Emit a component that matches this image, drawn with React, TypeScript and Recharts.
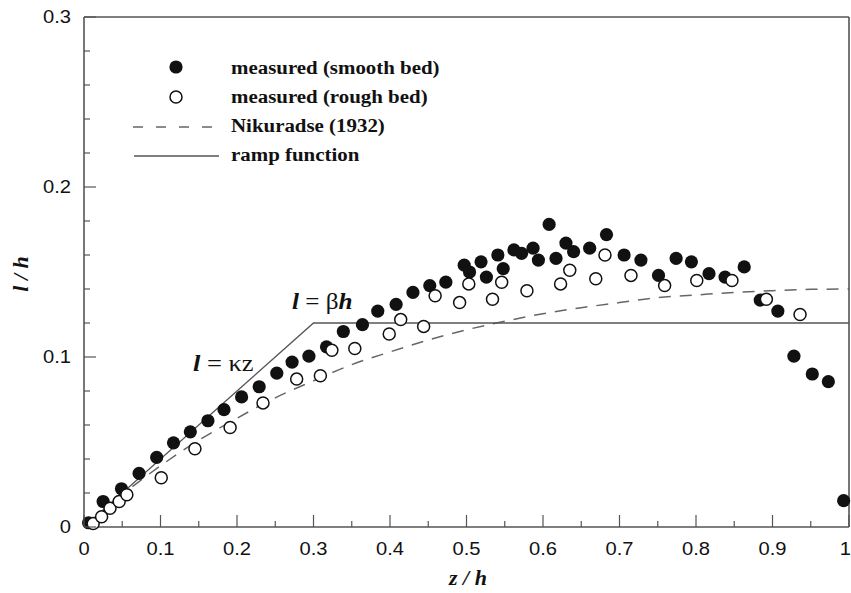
import { ComposedChart, Scatter, Line, XAxis, YAxis, Legend } from "recharts";

// measured, smooth bed (filled circles)
const smoothZ = [
  0.006, 0.025, 0.049, 0.072, 0.095, 0.117, 0.139, 0.162, 0.183, 0.206, 0.229, 0.252, 0.272, 0.294,
  0.317, 0.339, 0.364, 0.384, 0.408, 0.43, 0.452, 0.473, 0.497, 0.504, 0.519, 0.526, 0.541, 0.548,
  0.562, 0.572, 0.587, 0.594, 0.608, 0.617, 0.63, 0.64, 0.661, 0.683, 0.706, 0.728, 0.751, 0.774,
  0.794, 0.817, 0.838, 0.863, 0.884, 0.907, 0.928, 0.952, 0.973, 0.993,
];
const smoothL = [
  0.0025, 0.015, 0.0225, 0.0315, 0.041, 0.0495, 0.056, 0.0625, 0.069, 0.0765, 0.0825, 0.0905, 0.097,
  0.1005, 0.106, 0.115, 0.119, 0.127, 0.131, 0.138, 0.142, 0.144, 0.154, 0.15, 0.156, 0.147, 0.16,
  0.152, 0.163, 0.161, 0.164, 0.157, 0.178, 0.158, 0.167, 0.162, 0.164, 0.172, 0.16, 0.157, 0.148,
  0.158, 0.156, 0.149, 0.147, 0.153, 0.1335, 0.127, 0.1005, 0.09, 0.0855, 0.0155,
];

// measured, rough bed (open circles)
const roughZ = [
  0.012, 0.023, 0.034, 0.046, 0.056, 0.101, 0.145, 0.191, 0.234, 0.278, 0.309, 0.324, 0.354, 0.399,
  0.414, 0.444, 0.459, 0.491, 0.503, 0.534, 0.546, 0.579, 0.623, 0.635, 0.669, 0.681, 0.715, 0.759,
  0.801, 0.847, 0.892, 0.936,
];
const roughL = [
  0.002, 0.006, 0.011, 0.015, 0.019, 0.029, 0.046, 0.0585, 0.073, 0.087, 0.089, 0.104, 0.105, 0.1135,
  0.122, 0.118, 0.136, 0.132, 0.143, 0.134, 0.144, 0.139, 0.143, 0.151, 0.146, 0.16, 0.148, 0.142,
  0.145, 0.145, 0.134, 0.125,
];

// Nikuradse (1932), dashed curve
const nikZ = [0, 0.05, 0.1, 0.15, 0.2, 0.25, 0.3, 0.35, 0.4, 0.45, 0.5, 0.55, 0.6, 0.65, 0.7, 0.75, 0.8, 0.85, 0.9, 0.95, 1];
const nikL = [
  0, 0.019, 0.036, 0.051, 0.064, 0.076, 0.086, 0.0955, 0.103, 0.11, 0.116, 0.121, 0.1255, 0.129,
  0.132, 0.135, 0.1365, 0.138, 0.139, 0.1398, 0.14,
];

// ramp function
const rampZ = [0, 0.3, 1];
const rampL = [0, 0.12, 0.12];

const xTicks = [0, 0.05, 0.1, 0.15, 0.2, 0.25, 0.3, 0.35, 0.4, 0.45, 0.5, 0.55, 0.6, 0.65, 0.7, 0.75, 0.8, 0.85, 0.9, 0.95, 1];
const yTicks = [0, 0.02, 0.04, 0.06, 0.08, 0.1, 0.12, 0.14, 0.16, 0.18, 0.2, 0.22, 0.24, 0.26, 0.28, 0.3];

const zip = (zs: number[], ls: number[]) => zs.map((z, i) => ({ z, l: ls[i] }));
const smooth = zip(smoothZ, smoothL);
const rough = zip(roughZ, roughL);
const nikuradse = zip(nikZ, nikL);
const ramp = zip(rampZ, rampL);

const AXIS = "#555";
const INK = "#111";
const SANS = "'Liberation Sans', Arial, sans-serif";
const SERIF = "'Liberation Serif', 'Times New Roman', serif";
const MAJOR = 12;
const MINOR = 6;
const R = 6.6;

const isMajor = (v: number) => Math.round(v * 100) % 10 === 0;
const fmt = (v: number) => (v === 0 ? "0" : v === 1 ? "1" : v.toFixed(1));

function StretchText({ x, y, anchor = "start", sx = 1.12, size = 18, family = SANS, weight = "normal", children }: any) {
  return (
    <text
      transform={`translate(${x} ${y}) scale(${sx} 1)`}
      textAnchor={anchor}
      fontFamily={family}
      fontSize={size}
      fontWeight={weight}
      fill={INK}
    >
      {children}
    </text>
  );
}

function BottomTick({ x, y, payload }: any) {
  const v = payload.value;
  const major = isMajor(v);
  // the last label sits against the right edge, as in the original
  const last = v === 1;
  return (
    <g>
      <line x1={x} x2={x} y1={y} y2={y - (major ? MAJOR : MINOR)} stroke={AXIS} strokeWidth={1.2} />
      {major && (
        <StretchText x={last ? x + 2 : x} y={y + 28} anchor={last ? "end" : "middle"}>
          {fmt(v)}
        </StretchText>
      )}
    </g>
  );
}

function TopTick({ x, y, payload }: any) {
  const len = isMajor(payload.value) ? MAJOR : MINOR;
  return <line x1={x} x2={x} y1={y} y2={y + len} stroke={AXIS} strokeWidth={1.2} />;
}

function LeftTick({ x, y, payload }: any) {
  const major = isMajor(payload.value);
  return (
    <g>
      <line x1={x} x2={x + (major ? MAJOR : MINOR)} y1={y} y2={y} stroke={AXIS} strokeWidth={1.2} />
      {major && (
        <StretchText x={x - 13} y={y + 6} anchor="end">
          {fmt(payload.value)}
        </StretchText>
      )}
    </g>
  );
}

function RightTick({ x, y, payload }: any) {
  const len = isMajor(payload.value) ? MAJOR : MINOR;
  return <line x1={x} x2={x - len} y1={y} y2={y} stroke={AXIS} strokeWidth={1.2} />;
}

const FilledDot = (p: any) => <circle cx={p.cx} cy={p.cy} r={R} fill={INK} />;
const OpenDot = (p: any) => <circle cx={p.cx} cy={p.cy} r={R - 0.6} fill="#fff" stroke={INK} strokeWidth={1.5} />;

function LegendBox() {
  const tx = 231;
  const label = (y: number, text: string) => (
    <StretchText x={tx} y={y} size={19} sx={1.1} family={SERIF} weight="bold">
      {text}
    </StretchText>
  );
  return (
    <svg width={460} height={180} style={{ display: "block" }}>
      <circle cx={176} cy={67} r={R} fill={INK} />
      {label(74, "measured (smooth bed)")}
      <circle cx={176} cy={97} r={R - 0.6} fill="#fff" stroke={INK} strokeWidth={1.5} />
      {label(103, "measured (rough bed)")}
      <line x1={133} x2={219} y1={127} y2={127} stroke="#666" strokeWidth={1.4} strokeDasharray="10 13" />
      {label(132, "Nikuradse (1932)")}
      <line x1={134} x2={219} y1={156} y2={156} stroke="#555" strokeWidth={1.3} />
      {label(161, "ramp function")}
    </svg>
  );
}

const axisLine = { stroke: AXIS, strokeWidth: 1.6 };

export default function App() {
  return (
    <div style={{ position: "absolute", left: 0, top: 0, background: "#fff" }}>
      <ComposedChart width={851} height={593} margin={{ top: 12, right: 1, bottom: 26, left: 44 }}>
        <XAxis
          dataKey="z"
          type="number"
          domain={[0, 1]}
          ticks={xTicks}
          interval={0}
          height={40}
          tickSize={0}
          tickMargin={0}
          tickLine={false}
          axisLine={axisLine}
          tick={BottomTick}
        />
        <XAxis
          xAxisId="top"
          orientation="top"
          type="number"
          domain={[0, 1]}
          ticks={xTicks}
          interval={0}
          height={5}
          tickSize={0}
          tickMargin={0}
          tickLine={false}
          axisLine={axisLine}
          tick={TopTick}
        />
        <YAxis
          type="number"
          domain={[0, 0.3]}
          ticks={yTicks}
          interval={0}
          width={40}
          tickSize={0}
          tickMargin={0}
          tickLine={false}
          axisLine={axisLine}
          tick={LeftTick}
        />
        <YAxis
          yAxisId="right"
          orientation="right"
          type="number"
          domain={[0, 0.3]}
          ticks={yTicks}
          interval={0}
          width={1}
          tickSize={0}
          tickMargin={0}
          tickLine={false}
          axisLine={axisLine}
          tick={RightTick}
        />
        <Line
          data={nikuradse}
          dataKey="l"
          type="monotone"
          stroke="#666"
          strokeWidth={1.5}
          strokeDasharray="12 9"
          dot={false}
          isAnimationActive={false}
        />
        <Line
          data={ramp}
          dataKey="l"
          type="linear"
          stroke="#555"
          strokeWidth={1.3}
          dot={false}
          isAnimationActive={false}
        />
        <Scatter data={smooth} dataKey="l" shape={FilledDot} isAnimationActive={false} />
        <Scatter data={rough} dataKey="l" shape={OpenDot} isAnimationActive={false} />
        <Legend
          verticalAlign="middle"
          align="center"
          content={<LegendBox />}
          wrapperStyle={{ left: 0, top: 0, width: 460, height: 180 }}
        />
        <text x={193} y={371} fontFamily={SERIF} fontSize={24} fill={INK} transform="translate(193 371) scale(1.1 1) translate(-193 -371)">
          <tspan fontStyle="italic" fontWeight="bold">l</tspan>
          <tspan> = κz</tspan>
        </text>
        <text x={292} y={309} fontFamily={SERIF} fontSize={24} fill={INK} transform="translate(292 309) scale(1.05 1) translate(-292 -309)">
          <tspan fontStyle="italic" fontWeight="bold">l</tspan>
          <tspan> = β</tspan>
          <tspan fontStyle="italic" fontWeight="bold">h</tspan>
        </text>
        <text x={468} y={585} textAnchor="middle" fontFamily={SERIF} fontSize={22} fontStyle="italic" fontWeight="bold" fill={INK}>
          z / h
        </text>
        <text
          x={28}
          y={274}
          transform="rotate(-90 28 274)"
          textAnchor="middle"
          fontFamily={SERIF}
          fontSize={22}
          fontStyle="italic"
          fontWeight="bold"
          fill={INK}
        >
          l / h
        </text>
      </ComposedChart>
    </div>
  );
}
